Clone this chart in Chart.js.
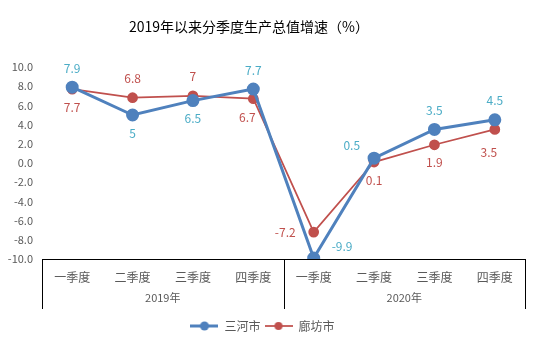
<!DOCTYPE html>
<html>
<head>
<meta charset="utf-8">
<script src="https://cdn.jsdelivr.net/npm/chart.js@4.4.1/dist/chart.umd.min.js"></script>
<style>
  html, body { margin: 0; padding: 0; background: #fff; }
  #wrap { width: 540px; height: 346px; position: relative; }
</style>
</head>
<body>
<div id="wrap"><canvas id="gdp"></canvas></div>
<script>
const quarters = ["一季度", "二季度", "三季度", "四季度", "一季度", "二季度", "三季度", "四季度"];
const years = ["2019年", "2020年"];
const sanhe = [7.9, 5, 6.5, 7.7, -9.9, 0.5, 3.5, 4.5];
const langfang = [7.7, 6.8, 7, 6.7, -7.2, 0.1, 1.9, 3.5];
const yTicks = [-10, -8, -6, -4, -2, 0, 2, 4, 6, 8, 10];

const FONT = '"Noto Sans CJK SC", "Noto Sans", sans-serif';
const GREY = '#595959';
const BLUE = '#4F81BD';
const RED = '#C0504D';

// where each value label sits relative to its point
const sanheLabelPos = ['top', 'bottom', 'bottom', 'top', 'right', 'topleft', 'top', 'top'];
const langfangLabelPos = ['bottom', 'top', 'top', 'bottomleft', 'left', 'bottom', 'bottom', 'lowleft'];

// legend marker: short line with a dot in the middle
function legendMarker(color, lw, r) {
  const c = document.createElement('canvas');
  c.width = 28; c.height = 12;
  const g = c.getContext('2d');
  g.strokeStyle = color; g.lineWidth = lw;
  g.beginPath(); g.moveTo(0, 6); g.lineTo(28, 6); g.stroke();
  g.fillStyle = color;
  g.beginPath(); g.arc(14, 6, r, 0, Math.PI * 2); g.fill();
  return c;
}

const titlePlugin = {
  id: 'titleText',
  afterDraw(chart) {
    const ctx = chart.ctx;
    ctx.save();
    ctx.font = '14px ' + FONT;
    ctx.fillStyle = '#000';
    ctx.textAlign = 'center';
    ctx.textBaseline = 'middle';
    ctx.fillText('2019年以来分季度生产总值增速（%）', 249, 27);
    ctx.restore();
  }
};

// table-like frame under the plot: top rule plus vertical separators
const framePlugin = {
  id: 'frame',
  afterDraw(chart) {
    const ctx = chart.ctx;
    const a = chart.chartArea;
    const x = chart.scales.x;
    const mid = (x.getPixelForValue(3) + x.getPixelForValue(4)) / 2;
    const bottom = a.bottom + 50;
    ctx.save();
    ctx.strokeStyle = '#000';
    ctx.lineWidth = 1;
    ctx.beginPath();
    ctx.moveTo(a.left, a.bottom + 0.5); ctx.lineTo(a.right, a.bottom + 0.5);
    [a.left, mid, a.right].forEach(px => {
      const p = Math.round(px) + 0.5;
      ctx.moveTo(p, a.bottom); ctx.lineTo(p, bottom);
    });
    ctx.stroke();
    ctx.restore();
  }
};

const valueLabels = {
  id: 'valueLabels',
  afterDatasetsDraw(chart) {
    const ctx = chart.ctx;
    ctx.save();
    ctx.font = '12px ' + FONT;
    ctx.textBaseline = 'middle';
    chart.data.datasets.forEach((ds, i) => {
      const meta = chart.getDatasetMeta(i);
      meta.data.forEach((pt, j) => {
        const pos = ds.labelPos[j];
        let dx = 0, dy = 0, align = 'center';
        if (pos === 'top') dy = -19;
        else if (pos === 'bottom') dy = 18;
        else if (pos === 'left') { dx = -18; align = 'right'; }
        else if (pos === 'right') { dx = 18; dy = -12; align = 'left'; }
        else if (pos === 'topleft') { dx = -14; dy = -13; align = 'right'; }
        else if (pos === 'bottomleft') { dx = -6; dy = 19; }
        else if (pos === 'lowleft') { dx = -6; dy = 23; }
        ctx.fillStyle = ds.labelColor;
        ctx.textAlign = align;
        ctx.fillText(String(ds.data[j]), pt.x + dx, pt.y + dy);
      });
    });
    ctx.restore();
  }
};

new Chart(document.getElementById('gdp'), {
  type: 'line',
  data: {
    labels: quarters,
    datasets: [
      {
        label: '三河市',
        data: sanhe,
        borderColor: BLUE,
        backgroundColor: BLUE,
        borderWidth: 3,
        pointRadius: 5,
        pointHoverRadius: 5,
        pointStyle: 'circle',
        labelColor: '#4BACC6',
        labelPos: sanheLabelPos
      },
      {
        label: '廊坊市',
        data: langfang,
        borderColor: RED,
        backgroundColor: RED,
        borderWidth: 1.75,
        pointRadius: 4.5,
        pointHoverRadius: 4.5,
        labelColor: RED,
        labelPos: langfangLabelPos
      }
    ]
  },
  options: {
    responsive: true,
    maintainAspectRatio: false,
    animation: false,
    layout: { padding: { top: 67, right: 15, left: 0, bottom: 4 } },
    scales: {
      y: {
        min: -10,
        max: 10,
        afterBuildTicks: s => { s.ticks = yTicks.map(v => ({ value: v })); },
        afterFit: s => { s.width = 42; },
        grid: { display: false },
        border: { display: false },
        ticks: {
          padding: 1,
          color: GREY,
          font: { family: FONT, size: 11 },
          callback: v => Number(v).toFixed(1)
        }
      },
      x: {
        offset: true,
        afterFit: s => { s.height = 24; },
        grid: { display: false },
        border: { display: false },
        ticks: { padding: 3, color: GREY, font: { family: FONT, size: 12 }, maxRotation: 0, autoSkip: false }
      },
      x2: {
        type: 'category',
        labels: years,
        position: 'bottom',
        offset: true,
        afterFit: s => { s.height = 33; },
        grid: { display: false },
        border: { display: false },
        ticks: { padding: 0, color: GREY, font: { family: FONT, size: 11 }, maxRotation: 0 }
      }
    },
    plugins: {
      title: { display: false },
      tooltip: { enabled: false },
      legend: {
        position: 'bottom',
        labels: {
          color: GREY,
          font: { family: FONT, size: 12 },
          usePointStyle: true,
          pointStyleWidth: 28,
          padding: 4,
          boxHeight: 12,
          generateLabels: chart => chart.data.datasets.map((ds, i) => ({
            text: ds.label,
            pointStyle: legendMarker(ds.borderColor, ds.borderWidth, i === 0 ? 4.5 : 4),
            fillStyle: ds.borderColor,
            strokeStyle: ds.borderColor,
            lineWidth: 0,
            fontColor: GREY,
            datasetIndex: i
          }))
        }
      }
    }
  },
  plugins: [titlePlugin, framePlugin, valueLabels]
});
</script>
</body>
</html>
